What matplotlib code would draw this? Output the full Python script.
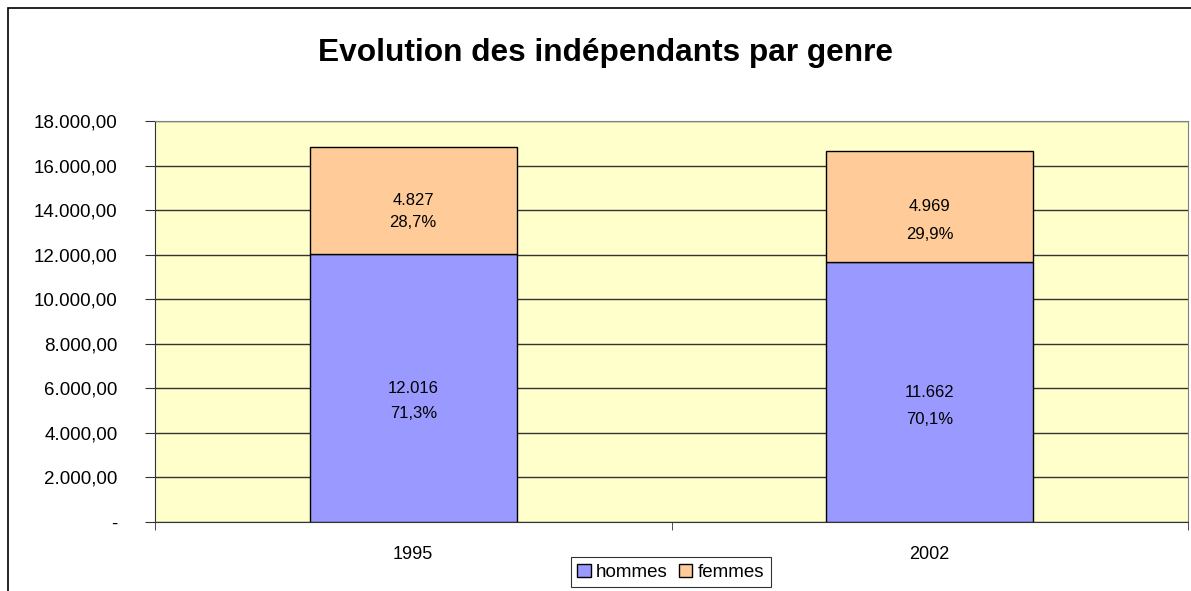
"""
Evolution des indépendants par genre - stacked bars
"""

import matplotlib
matplotlib.use("Agg")
import matplotlib.pyplot as plt
from matplotlib.patches import Rectangle
import numpy as np

plt.rcParams['font.family'] = ['Liberation Sans', 'DejaVu Sans']

######################################################################
############################### Data #################################
years = ["1995", "2002"]
hommes = [12016, 11662]
femmes = [4827, 4969]
pct_hommes = ["71,3%", "70,1%"]
pct_femmes = ["28,7%", "29,9%"]
y_ticks = [0, 2000, 4000, 6000, 8000, 10000, 12000, 14000, 16000, 18000]

# vertical gap (points) between value and percentage label, per bar
gap_h = [18, 20]
gap_f = [16, 20]


def fmt_num(v, dec=0):
    s = f"{v:,.{dec}f}"
    return s.replace(",", "X").replace(".", ",").replace("X", ".")


fig = plt.figure(figsize=(11.91, 5.91), dpi=100)
ax = fig.add_axes([155 / 1191, 1 - 522 / 591, 1033 / 1191, 401 / 591])
ax.set_facecolor("#FFFFCC")

x = np.arange(len(years))
ax.set_axisbelow(True)
ax.yaxis.grid(True, color="#333333", linewidth=1.0)
ax.bar(x, hommes, width=0.4, color="#9999FF", edgecolor="black",
       linewidth=1.0, label="hommes", zorder=3)
ax.bar(x, femmes, width=0.4, bottom=hommes, color="#FFCC99",
       edgecolor="black", linewidth=1.0, label="femmes", zorder=3)

# value + percentage labels inside the segments
for i in range(len(years)):
    mid_h = hommes[i] / 2
    mid_f = hommes[i] + femmes[i] / 2
    ax.text(x[i], mid_h, fmt_num(hommes[i]), ha="center", va="center", fontsize=12, zorder=4)
    ax.annotate(pct_hommes[i], (x[i], mid_h), xytext=(0, -gap_h[i]), textcoords="offset points",
                ha="center", va="center", fontsize=12, zorder=4)
    ax.text(x[i], mid_f, fmt_num(femmes[i]), ha="center", va="center", fontsize=12, zorder=4)
    ax.annotate(pct_femmes[i], (x[i], mid_f), xytext=(0, -gap_f[i]), textcoords="offset points",
                ha="center", va="center", fontsize=12, zorder=4)

ax.set_xlim(-0.5, 1.5)
ax.set_ylim(0, 18000)
ax.set_yticks(y_ticks)
ax.set_yticklabels(["-"] + [fmt_num(v, 2) for v in y_ticks[1:]], fontsize=13.5)
ax.tick_params(axis="y", direction="out", length=7, pad=20, color="#333333")

# category labels in the middle, ticks on the boundaries
ax.set_xticks(x)
ax.set_xticklabels(years, fontsize=13)
ax.tick_params(axis="x", which="major", length=0, pad=17)
ax.set_xticks([-0.5, 0.5, 1.5], minor=True)
ax.tick_params(axis="x", which="minor", direction="out", length=6, color="#333333")

for side in ["top", "right"]:
    ax.spines[side].set_color("#808080")
for side in ["left", "bottom"]:
    ax.spines[side].set_color("#333333")

fig.text(605 / 1191, 1 - 53 / 591, "Evolution des indépendants par genre",
         ha="center", va="center", fontsize=22.8, fontweight="bold")

leg = fig.legend(loc="upper center", bbox_to_anchor=(671 / 1191, 1 - 557 / 591),
                 ncol=2, fontsize=13.5, frameon=True, fancybox=False,
                 handlelength=0.7, handleheight=0.7, handletextpad=0.3,
                 columnspacing=0.6, borderpad=0.35, borderaxespad=0)
leg.get_frame().set_edgecolor("black")
leg.get_frame().set_linewidth(0.8)

# outer chart border (left and top visible)
fig.patches.append(Rectangle((8 / 1191, -0.5), 2, 0.5 + (1 - 8 / 591),
                             transform=fig.transFigure, fill=False,
                             edgecolor="black", linewidth=1.2, clip_on=False))

fig.savefig("out.png", dpi=100)
